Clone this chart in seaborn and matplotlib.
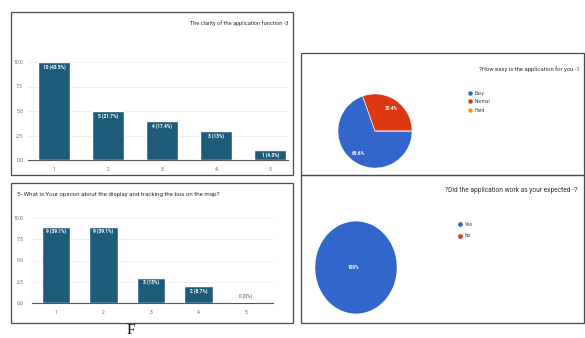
import matplotlib
matplotlib.use("Agg")
import matplotlib.pyplot as plt
from matplotlib.patches import Rectangle
from matplotlib.lines import Line2D
import seaborn as sns
import pandas as pd

# ---- data ----
clarity_levels = ["1", "2", "3", "4", "5"]
clarity_counts = [10, 5, 4, 3, 1]
clarity_labels = ["10 (43.5%)", "5 (21.7%)", "4 (17.4%)", "3 (13%)", "1 (4.3%)"]

map_levels = ["1", "2", "3", "4", "5"]
map_counts = [9, 9, 3, 2, 0]
map_labels = ["9 (39.1%)", "9 (39.1%)", "3 (13%)", "2 (8.7%)", "0 (0%)"]

ease_names = ["Easy", "Normal", "Hard"]
ease_share = [69.6, 30.4, 0.0]

expect_names = ["Yes", "No"]
expect_share = [100.0, 0.0]

y_ticks = [0.0, 2.5, 5.0, 7.5, 10.0]

titles = {
    "clarity": "The clarity of the application function -3",
    "map": "5- What is Your opinion about the display and tracking the bus on the map?",
    "ease": "?How easy is the application for you -1",
    "expect": "?Did the application work as your expected -7",
}

# ---- style ----
sns.set_theme(style="white")
plt.rcParams["font.family"] = ["Roboto", "DejaVu Sans"]

BAR = "#1d5b79"
BLUE = "#3366cc"
RED = "#dc3912"
ORANGE = "#ff9900"
FRAME = "#4a4a4a"
TICK = "#6a6a6a"

W, H = 585, 338
fig = plt.figure(figsize=(W / 100, H / 100), dpi=100)
fig.patch.set_facecolor("white")


def rect(x0, y0, x1, y1):
    return [x0 / W, 1 - y1 / H, (x1 - x0) / W, (y1 - y0) / H]


def frame(x0, y0, x1, y1):
    fig.patches.append(Rectangle((x0 / W, 1 - y1 / H), (x1 - x0) / W, (y1 - y0) / H,
                                 transform=fig.transFigure, fill=False,
                                 edgecolor=FRAME, linewidth=0.9, zorder=0))


def bar_panel(box, levels, counts, labels, xlim, ypad):
    ax = fig.add_axes(rect(*box))
    df = pd.DataFrame({"level": levels, "count": counts})
    sns.barplot(data=df, x="level", y="count", color=BAR, width=0.6,
                saturation=1, ax=ax, zorder=3)
    ax.set_xlim(*xlim)
    ax.set_ylim(0, 10)
    ax.set_yticks(y_ticks)
    ax.set_yticklabels([f"{t:.1f}" for t in y_ticks])
    ax.set_xlabel("")
    ax.set_ylabel("")
    ax.grid(axis="y", color="#ececec", linewidth=0.6, zorder=0)
    for s in ["top", "right", "left"]:
        ax.spines[s].set_visible(False)
    ax.spines["bottom"].set_color("#555555")
    ax.spines["bottom"].set_linewidth(0.8)
    ax.tick_params(axis="x", length=0, labelsize=3.6, colors=TICK, pad=5)
    ax.tick_params(axis="y", length=0, labelsize=3.6, colors=TICK, pad=ypad)
    ax.set_facecolor("none")
    for i, (c, lab) in enumerate(zip(counts, labels)):
        if c > 0:
            ax.text(i, c - 0.25, lab, ha="center", va="top", color="white",
                    fontsize=3.4, fontweight="bold", zorder=5)
        else:
            ax.text(i, 0.5, lab, ha="center", va="bottom", color="#444444",
                    fontsize=3.4, zorder=5)
    return ax


# ---- frames ----
frame(11, 12, 293, 175)
frame(11, 183, 293, 323)
frame(301, 53, 584, 175)
frame(301, 175, 584, 323)

# ---- bar charts ----
bar_panel((28, 62, 288, 160), clarity_levels, clarity_counts, clarity_labels,
          (-0.48, 4.33), ypad=3.5)
fig.text(288 / W, 1 - 23 / H, titles["clarity"], ha="right", va="center",
         fontsize=4.1, color="#333333")

bar_panel((32, 218, 273, 303), map_levels, map_counts, map_labels,
          (-0.5, 4.57), ypad=6)
fig.text(17 / W, 1 - 194 / H, titles["map"], ha="left", va="center",
         fontsize=4.4, color="#333333")

# ---- pie: ease of use ----
ax = fig.add_axes(rect(335, 91, 415, 171))
ax.pie(ease_share, colors=[BLUE, RED, ORANGE], startangle=0,
       counterclock=False, autopct=lambda p: f"{p:.1f}%" if p > 1 else "",
       pctdistance=0.76,
       wedgeprops=dict(edgecolor="white", linewidth=0.4),
       textprops=dict(color="white", fontsize=3.4, fontweight="bold"))
ax.set_xlim(-1.08, 1.08)
ax.set_ylim(-1.08, 1.08)
fig.text(580 / W, 1 - 69 / H, titles["ease"], ha="right", va="center",
         fontsize=4.2, color="#333333")
for k, (name, col) in enumerate(zip(ease_names, [BLUE, RED, ORANGE])):
    y = 1 - (93 + 8.5 * k) / H
    fig.add_artist(Line2D([470 / W], [y], marker="o", markersize=3.2, color=col,
                          markeredgewidth=0, transform=fig.transFigure))
    fig.text(475 / W, y, name, ha="left", va="center", fontsize=3.4, color="#444444")

# ---- pie: met expectations ----
ax2 = fig.add_axes(rect(314, 220, 398, 315))
ax2.pie(expect_share, colors=[BLUE, RED], startangle=90, counterclock=False,
        wedgeprops=dict(linewidth=0))
ax2.set_aspect("auto")
ax2.set_xlim(-1.03, 1.03)
ax2.set_ylim(-1.03, 1.03)
ax2.text(-0.05, 0, f"{expect_share[0]:.0f}%", ha="center", va="center", color="white",
         fontsize=3.4, fontweight="bold")
fig.text(578 / W, 1 - 190 / H, titles["expect"], ha="right", va="center",
         fontsize=4.8, color="#333333")
for k, (name, col) in enumerate(zip(expect_names, [BLUE, RED])):
    y = 1 - (224 + 11.5 * k) / H
    fig.add_artist(Line2D([460 / W], [y], marker="o", markersize=3.4, color=col,
                          markeredgewidth=0, transform=fig.transFigure))
    fig.text(465 / W, y, name, ha="left", va="center", fontsize=3.6, color="#444444")

# ---- caption letter ----
fig.text(131 / W, 1 - 330.5 / H, "F", ha="center", va="center", fontsize=11,
         family=["Liberation Serif", "DejaVu Serif"], color="#111111")

fig.savefig("out.png", dpi=100, facecolor="white")
